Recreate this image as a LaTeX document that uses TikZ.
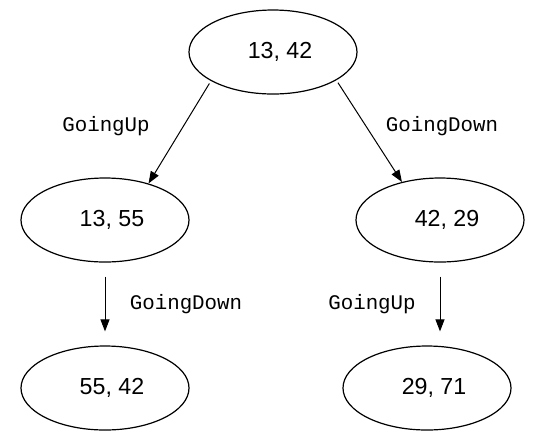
\documentclass[tikz,border=0pt]{standalone}
\usepackage{fontspec}
\setmainfont{Liberation Sans}
\setmonofont{Liberation Mono}
\usetikzlibrary{shapes.geometric,arrows.meta}

\begin{document}
\begin{tikzpicture}[x=0.5pt,y=-0.5pt]

        \useasboundingbox (0,0) rectangle (536,441);

        \begin{scope}[every node/.style={ellipse,draw,line width=0.6pt,minimum width=84pt,minimum height=42pt,inner sep=0pt,font=\fontsize{11.6}{14}\selectfont}]
          \node (s0) at (273,52)  {\hspace*{7pt}13, 42};
          \node (s1) at (105,220) {\hspace*{7pt}13, 55};
          \node (s2) at (440,220) {\hspace*{7pt}42, 29};
          \node (s3) at (105,388) {\hspace*{7pt}55, 42};
          \node (s4) at (427,388) {\hspace*{7pt}29, 71};
        \end{scope}

        \begin{scope}[every node/.style={font=\ttfamily\fontsize{10.4}{12}\selectfont}]
          \node (up1)   at (106,126) {GoingUp};
          \node (down1) at (442,126) {GoingDown};
          \node (down2) at (186,304) {GoingDown};
          \node (up2)   at (372,304) {GoingUp};
        \end{scope}

        \begin{scope}[every edge/.style={draw,line width=0.5pt,-{Triangle[length=6pt,width=4.5pt]}}]
          \path (s0.205) edge[shorten <=1.5pt] (s1.40);
          \path (s0.336) edge[shorten <=1.5pt] (s2.135);
          \path (s1.south) edge[shorten <=7pt,shorten >=7pt] (s1.south |- s3.north);
          \path (s2.south) edge[shorten <=7pt,shorten >=7pt] (s2.south |- s4.north);
        \end{scope}

      \end{tikzpicture}
\end{document}
